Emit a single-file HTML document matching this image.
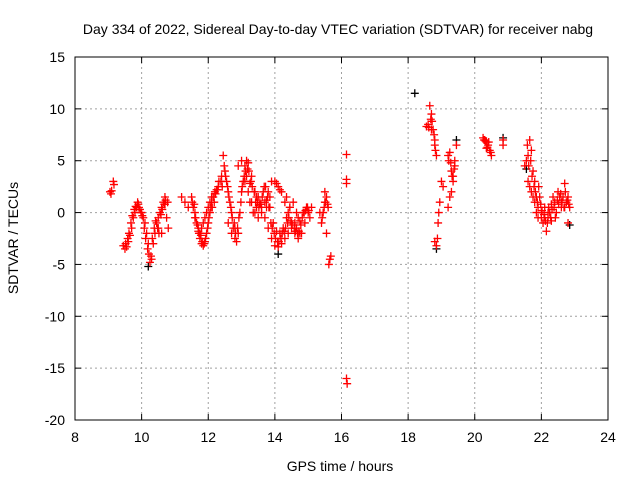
<!DOCTYPE html>
<html><head><meta charset="utf-8"><style>
body{margin:0;background:#fff;}
svg{display:block;font-family:"Liberation Sans",sans-serif;}
</style></head><body>
<svg id="chart" width="640" height="480" viewBox="0 0 640 480">
<text x="338" y="34" font-size="14" text-anchor="middle" fill="#000">Day 334 of 2022, Sidereal Day-to-day VTEC variation (SDTVAR) for receiver nabg</text>
<g id="grid"></g><g id="axes"></g><g id="marks"></g>
<text x="340" y="471" font-size="14" text-anchor="middle">GPS time / hours</text>
<text x="18" y="238" font-size="14" text-anchor="middle" transform="rotate(-90 18 238)">SDTVAR / TECUs</text>
</svg>
<script>
const xTicks=[8,10,12,14,16,18,20,22,24];
const yTicks=[15,10,5,0,-5,-10,-15,-20];
const redT=[9.05,9.08,9.1,9.15,9.17,9.45,9.5,9.55,9.6,9.65,9.7,9.75,9.8,9.85,9.9,9.95,10,10.05,10.1,10.15,10.2,10.25,10.3,10.35,10.4,10.45,10.5,10.55,10.6,10.65,10.7,10.75,10.8,10.5,10.6,10.7,11.2,11.3,11.4,
11.5,11.55,11.6,11.65,11.7,11.75,11.8,11.85,11.9,11.95,12,12.05,12.1,12.15,12.2,12.3,12.4,12.45,12.5,12.55,12.6,12.65,12.7,12.75,12.8,12.85,12.9,12.95,13,13.05,13.1,13.15,13.2,13.3,13.4,13.5,13.6,13.7,13.8,13.9,14,14.1,14.2,14.3,14.4,14.5,14.6,14.7,
12.9,13,13.1,13.2,13.3,13.4,13.5,13.6,13.7,13.8,13.9,14,14.1,14.2,14.3,14.4,14.5,14.6,14.7,14.8,14.9,15,15.1,
11.75,11.8,11.85,11.9,11.95,12,12.05,12.1,12.2,12.25,11.6,11.7,12.6,12.7,12.8,13.25,13.35,13.45,13.55,13.65,13.75,13.85,13.95,14.05,14.15,14.25,14.35,14.45,14.55,14.65,14.75,14.85,14.95,15.05,
9.52,9.58,9.62,9.68,9.72,9.78,9.82,9.88,9.92,9.98,10.02,10.08,10.12,10.18,10.22,10.28,10.32,10.38,10.42,10.48,10.52,10.58,10.62,10.68,10.72,10.78,
11.52,11.58,11.62,11.68,11.72,11.78,11.82,11.88,11.92,11.98,12.02,12.08,12.12,12.18,12.22,12.28,12.32,12.38,12.42,12.48,12.52,12.58,12.62,12.68,12.72,12.78,12.82,12.88,12.92,12.98,
13.02,13.08,13.12,13.18,13.22,13.28,13.32,13.38,13.42,13.48,13.52,13.58,13.62,13.68,13.72,13.78,13.82,13.88,13.92,13.98,14.02,14.08,14.12,14.18,14.22,14.28,14.32,14.38,14.42,14.48,14.52,14.58,14.62,14.68,14.72,14.78,14.82,14.88,14.92,14.98,15.02,
13.15,13.25,13.45,13.55,13.75,13.85,14.05,14.15,14.35,14.45,14.65,14.75,
15.4,15.45,15.5,15.55,15.6,15.55,15.65,15.62,15.68,15.35,15.5,15.42,15.48,15.52,15.58,16.15,16.15,16.15,16.15,16.17,
18.55,18.6,18.65,18.7,18.75,18.8,18.85,18.8,18.85,18.9,18.95,19,19.05,18.7,18.8,18.62,18.68,18.72,18.78,18.82,18.88,18.92,
19.2,19.25,19.3,19.35,19.4,19.45,19.2,19.25,19.3,19.35,19.4,19.22,19.28,19.32,19.38,
20.25,20.3,20.35,20.4,20.45,20.5,20.35,20.42,20.85,20.85,20.28,20.32,20.38,20.48,
21.5,21.55,21.6,21.65,21.7,21.75,21.8,21.85,21.9,21.95,22,22.05,22.1,22.15,22.2,22.25,22.3,22.35,22.4,22.5,22.55,22.6,22.65,22.7,22.75,22.8,22.85,
21.6,21.7,21.8,21.9,22,22.1,22.2,22.3,21.65,21.75,21.85,22.45,22.6,22.7,22.8,
21.58,21.62,21.68,21.72,21.78,21.82,21.88,21.92,21.98,22.02,22.08,22.12,22.18,22.22,22.28,22.32,22.38,22.42,22.48,22.52,22.58,22.62,22.68,22.72,22.78,22.82];
const redV=[2,1.8,2.1,3,2.7,-3.2,-3.5,-3.3,-2.8,-2.2,-1.5,-0.5,0,0.5,0.8,0.3,0,-0.5,-1,-2,-3,-4.8,-4.5,-3,-2,-1,-0.5,0,0.5,1,1.5,-0.5,-1.5,-1.5,-2,0.8,1.5,1,0.5,
1.5,0.5,0,-1,-1.8,-2.5,-3,-3.2,-2.8,-2,-1,0,1,1.5,2,2.5,3.5,5.5,4,3,2,1,0,-1.5,-2.5,-2.8,-2,0,2,3,4.5,5,4.8,3.5,2,1.5,0.5,-0.5,-1.5,-2.5,-3.2,-3.3,-3,-2.5,-2,-1.5,-1,-0.5,
4.5,5,3,2,1,0,-0.5,0,1,2,3,3,2.5,2,1,0,-1,-2,-2.5,-2,-1,0,0.5,
-2,-1.5,-1,-0.5,0,0.5,1,1.5,1.8,2.2,-0.5,-1.5,-1,-2,-1.5,1,0,0.5,1,2,1.2,0.5,-1,-1.8,-2,-1.5,-0.5,0.5,1,0,-0.8,0,0.5,-0.5,
-3,-2.5,-2,-1,-0.3,0.3,0.6,1,0.5,0,-0.3,-1.5,-2.5,-3.5,-4,-4.2,-2.5,-1.5,-0.8,-1.5,-2,-0.2,0.3,0.8,1.2,1,
1,0.8,-0.5,-1.2,-2,-2.2,-2.8,-3,-2.5,-1.5,-0.5,0.5,0.5,1,1.8,2.2,3,3,2.5,4.5,3.5,2.5,1.5,0.5,-0.5,-1,-2,-1.5,-0.5,1,
2.5,3.5,4,4.2,4,3,2.5,2,1,1,0.5,0.8,1.5,2.5,2.5,1.5,0.5,-1,-1.5,-2,-2.5,-2.8,-2.8,-2.5,-2,-1.8,-1.5,-1,-0.5,-0.8,-1.2,-1.5,-1.8,-2,-1.8,-1.2,-0.5,0,0.2,0.5,0.2,
3.5,2.8,1.5,0.8,0.5,1.5,2.8,2.2,1.5,0.5,-1.5,-2,
-1,0,1,1.5,0.5,-2,-4.5,-5,-4.2,0,2,-0.5,0.5,1,0.8,5.6,3.2,2.8,-16,-16.5,
8.3,8.5,10.3,9.5,8,6.5,5.5,-2.8,-3.2,-1,1,3,2.5,8,7,8.2,9,8.8,7.5,6,-2.5,0,
5.5,5.8,4,3,5,6.5,0.5,1.5,2,3.5,4.5,5,4.8,3.5,4.2,
7.2,7,6.8,6.5,6,5.5,6.2,6.8,7,6.5,7,6.9,6.3,5.8,
4.5,5,5.5,7,6,4,3,1.5,0.5,1.5,-0.5,-1,-0.5,-1.8,-0.5,0,0.8,1.5,1,2,1.5,0.5,1.5,2.8,1,-1,0.5,
3,2,1,-0.5,0,0.5,0,-0.8,2.5,1.5,0,0,1,0.5,1.5,
6.5,4.5,5,3.5,2.5,2,1,2.5,0.8,0.2,-0.2,-0.8,-1,0.5,-0.5,0.3,0.5,-0.5,1.2,0.8,1.8,1,0.5,2,1.2,0.8];
const blackT=[18.2,19.45,20.85,21.55,22.85,14.1,10.2,18.85];
const blackV=[11.5,7,7.2,4.2,-1.2,-4,-5.2,-3.5];
const x0=75,x1=608,y0=420,y1=57;
const sx=t=>x0+(t-8)/16*(x1-x0);
const sy=v=>y0-(v+20)/35*(y0-y1);
const NS="http://www.w3.org/2000/svg";
const mk=(tag,attrs,parent)=>{const e=document.createElementNS(NS,tag);for(const k in attrs)e.setAttribute(k,attrs[k]);parent.appendChild(e);return e;};
const grid=document.getElementById('grid'),axes=document.getElementById('axes'),marks=document.getElementById('marks');
xTicks.forEach(t=>{const x=sx(t);
 if(t>8&&t<24){const g=mk('line',{x1:x,x2:x,y1:y1,y2:y0,stroke:'#a0a0a0','stroke-dasharray':'2,3'},grid);
 
 }
 mk('line',{x1:x,x2:x,y1:y0,y2:y0-6,stroke:'#000'},axes);mk('line',{x1:x,x2:x,y1:y1,y2:y1+6,stroke:'#000'},axes);
 const l=mk('text',{x:x,y:y0+22,'font-size':14,'text-anchor':'middle'},axes);l.textContent=t;
 
 });
yTicks.forEach(v=>{const y=sy(v);
 if(v>-20&&v<15){const g=mk('line',{x1:x0,x2:x1,y1:y,y2:y,stroke:'#a0a0a0','stroke-dasharray':'2,3'},grid);
 
 }
 mk('line',{x1:x0,x2:x0+6,y1:y,y2:y,stroke:'#000'},axes);mk('line',{x1:x1,x2:x1-6,y1:y,y2:y,stroke:'#000'},axes);
 const l=mk('text',{x:x0-10,y:y+5,'font-size':14,'text-anchor':'end'},axes);l.textContent=v;
 
 });
const fr=mk('rect',{x:x0,y:y1,width:x1-x0,height:y0-y1,fill:'none',stroke:'#000'},axes);


function plus(t,v,c,name){const x=sx(t),y=sy(v);
 const p=mk('path',{d:`M${x-4},${y}H${x+4}M${x},${y-4}V${y+4}`,stroke:c,'stroke-width':1.3,fill:'none'},marks);
 
 }
blackT.forEach((t,i)=>plus(t,blackV[i],'#000','black-point'));
redT.forEach((t,i)=>plus(t,redV[i],'#f00','red-point'));
</script>
</body></html>
